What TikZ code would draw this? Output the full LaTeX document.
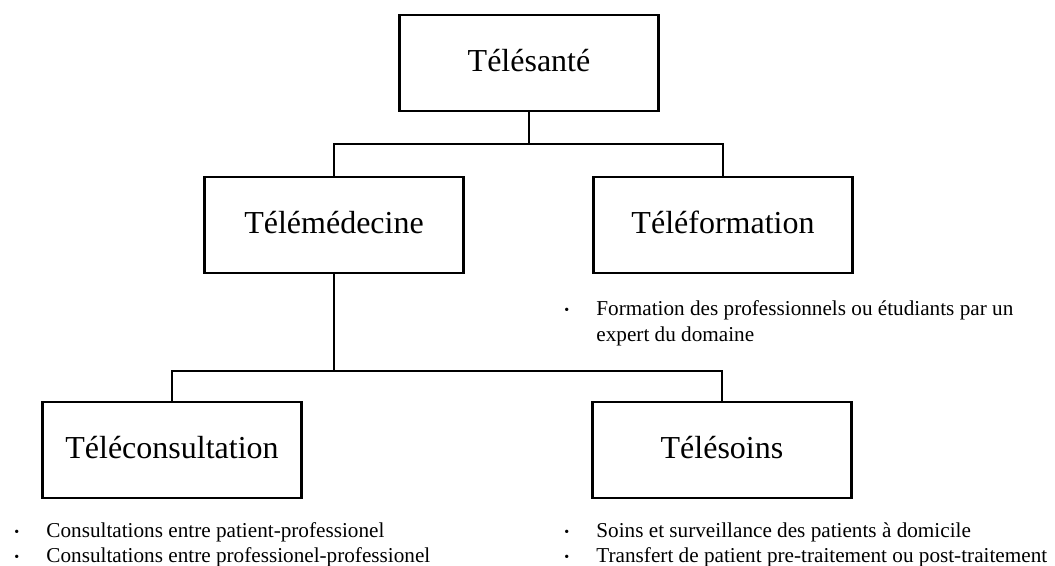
\documentclass[tikz,border=0pt]{standalone}
\usepackage{fontspec}
\setmainfont{Liberation Serif}
\usetikzlibrary{positioning}

\newcommand{\blt}{\raisebox{0.5pt}{\fontsize{14}{14}\selectfont\textbullet}}

\begin{document}
\begin{tikzpicture}[x=1pt, y=-1pt, line width=2.9pt,
	main/.style = {draw, rectangle, minimum width=259pt, minimum height=96pt, inner sep=0pt,
		font=\fontsize{32}{38}\selectfont, text height=21pt, text depth=5pt},
	notes/.style = {anchor=base west, inner sep=0pt, font=\fontsize{21.2}{25}\selectfont}]

		\useasboundingbox (0,0) rectangle (1055,565);

		\node[main] (sante) at (529,63) {Télésanté};
		\node[main] (medecine) at (334,225) {Télémédecine};
		\node[main] (formation) at (723,225) {Téléformation};
		\node[main] (consult) at (172,450) {Téléconsultation};
		\node[main] (soins) at (722,450) {Télésoins};

		\coordinate (split1) at (529,144);
		\coordinate (split2) at (334,371);

		\draw (sante.south) -- (split1);
		\draw (split1) -| (medecine.north);
		\draw (split1) -| (formation.north);
		\draw (medecine.south) -- (split2);
		\draw (split2) -| (consult.north);
		\draw (split2) -| (soins.north);

		\node[notes] (formlist) at (563,315) {\renewcommand{\arraystretch}{1.04}\begin{tabular}[t]{@{}p{32pt}@{}l@{}}
			\blt & Formation des professionnels ou étudiants par un\\
			 & expert du domaine
		\end{tabular}};
		\node[notes] (consultlist) at (13,537) {\begin{tabular}[t]{@{}p{32pt}@{}l@{}}
			\blt & Consultations entre patient-professionel\\
			\blt & Consultations entre professionel-professionel
		\end{tabular}};
		\node[notes] (soinslist) at (563,537) {\begin{tabular}[t]{@{}p{32pt}@{}l@{}}
			\blt & Soins et surveillance des patients à domicile\\
			\blt & Transfert de patient pre-traitement ou post-traitement
		\end{tabular}};
	\end{tikzpicture}
\end{document}
